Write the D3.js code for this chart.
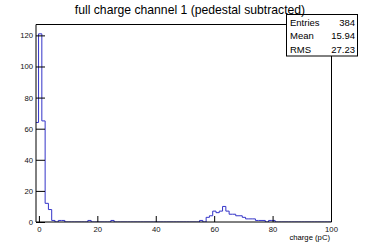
<!DOCTYPE html>
<html>
<head>
<meta charset="utf-8">
<script src="https://cdn.jsdelivr.net/npm/d3@7"></script>
<style>
  body { margin: 0; background: #fff; }
  svg { display: block; font-family: "Liberation Sans", Arial, Helvetica, sans-serif; }
  .axis text { fill: #111; font-size: 7.7px; }
  .axis line { stroke: #000; }
</style>
</head>
<body>
<svg id="chart" width="368" height="249"></svg>
<script>
// histogram binning (as filled by the analysis): 90 bins from -1.25 to 100
const histMin = -1.25;
const binWidth = 1.125;
const counts = [
  64, 121, 65, 12, 8, 1, 0, 1, 1, 0,      // bins 0-9
  0, 0, 0, 0, 0, 0, 1, 0, 0, 0,           // 10-19
  0, 0, 0, 1, 0, 0, 0, 0, 0, 0,           // 20-29
  0, 0, 0, 0, 0, 0, 0, 0, 0, 0,           // 30-39
  0, 0, 0, 0, 0, 0, 0, 0, 0, 0,           // 40-49
  1, 0, 3, 4, 7, 6, 7, 10, 7, 5,          // 50-59
  5, 4, 4, 3, 2, 2, 2, 1, 1, 1,           // 60-69
  0, 1, 1, 0, 0, 0, 0, 0, 0, 0,           // 70-79
  0, 0, 0, 0, 0, 0, 0, 0, 0, 0            // 80-89
];

const title = "full charge channel 1 (pedestal subtracted)";
const xTitle = "charge (pC)";
const statLabels = ["Entries", "Mean", "RMS"];
const statValues = ["384", "15.94", "27.23"];

const xMajor = [0, 20, 40, 60, 80, 100];
const xMinor = [0, 5, 10, 15, 20, 25, 30, 35, 40, 45, 50, 55, 60, 65, 70, 75, 80, 85, 90, 95, 100];
const yMajor = [0, 20, 40, 60, 80, 100, 120];
const yMinor = [0, 4, 8, 12, 16, 20, 24, 28, 32, 36, 40, 44, 48, 52, 56, 60, 64, 68, 72, 76, 80,
                84, 88, 92, 96, 100, 104, 108, 112, 116, 120, 124];

const frame = {left: 36, right: 331.5, top: 24.5, bottom: 222};

const svg = d3.select("#chart");

const x = d3.scaleLinear().domain([-1, 100]).range([frame.left, 331]);
const y = d3.scaleLinear().domain([0, 127]).range([frame.bottom, frame.top]);

svg.append("clipPath").attr("id", "clip")
   .append("rect")
   .attr("x", frame.left).attr("y", frame.top)
   .attr("width", frame.right - frame.left).attr("height", frame.bottom - frame.top);

// histogram as a step line
let pts = counts.map((c, i) => [histMin + i * binWidth, c]);
pts.push([histMin + counts.length * binWidth, counts[counts.length - 1]]);
const line = d3.line()
  .x(d => x(d[0]))
  .y(d => y(d[1]))
  .curve(d3.curveStepAfter);
svg.append("path")
   .datum(pts)
   .attr("clip-path", "url(#clip)")
   .attr("fill", "none")
   .attr("stroke", "#3434c8")
   .attr("stroke-width", 1)
   .attr("d", line);

// axes: ticks point into the frame
const gx = svg.append("g").attr("class", "axis").attr("transform", "translate(0," + frame.bottom + ")");
gx.call(d3.axisBottom(x).tickValues(xMinor).tickSize(-3).tickSizeOuter(0).tickFormat(""));
gx.call(d3.axisBottom(x).tickValues(xMajor).tickSize(-6).tickSizeOuter(0).tickPadding(5));
gx.selectAll(".domain").remove();

const gy = svg.append("g").attr("class", "axis").attr("transform", "translate(" + frame.left + ",0)");
gy.call(d3.axisLeft(y).tickValues(yMinor).tickSize(-4.5).tickSizeOuter(0).tickFormat(""));
gy.call(d3.axisLeft(y).tickValues(yMajor).tickSize(-9).tickSizeOuter(0).tickPadding(3));
gy.selectAll(".domain").remove();

// frame
const fr = svg.append("g").attr("stroke", "#000").attr("stroke-width", 1);
fr.append("line").attr("x1", frame.left).attr("x2", frame.right).attr("y1", frame.top).attr("y2", frame.top);
fr.append("line").attr("x1", frame.right).attr("x2", frame.right).attr("y1", frame.top).attr("y2", frame.bottom);
fr.append("line").attr("x1", frame.left).attr("x2", frame.right).attr("y1", frame.bottom).attr("y2", frame.bottom);
fr.append("line").attr("x1", frame.left).attr("x2", frame.left).attr("y1", frame.top).attr("y2", frame.bottom);

svg.append("text")
   .attr("x", 330).attr("y", 240)
   .attr("text-anchor", "end")
   .style("font-size", "7.7px")
   .text(xTitle);

// stats box
const stats = svg.append("g");
stats.append("rect")
     .attr("x", 286.5).attr("y", 14.5).attr("width", 71).attr("height", 41.5)
     .attr("fill", "#fff").attr("stroke", "#000");
statLabels.forEach((lab, i) => {
  stats.append("text").attr("x", 290).attr("y", 25.5 + i * 13.8)
       .style("font-size", "9.5px").text(lab);
  stats.append("text").attr("x", 355).attr("y", 25.5 + i * 13.8)
       .attr("text-anchor", "end").style("font-size", "9.5px").text(statValues[i]);
});

// title (drawn last, over the stats box edge)
svg.append("text")
   .attr("x", 190).attr("y", 13.5)
   .attr("text-anchor", "middle")
   .style("font-size", "12.2px")
   .text(title);
</script>
</body>
</html>
